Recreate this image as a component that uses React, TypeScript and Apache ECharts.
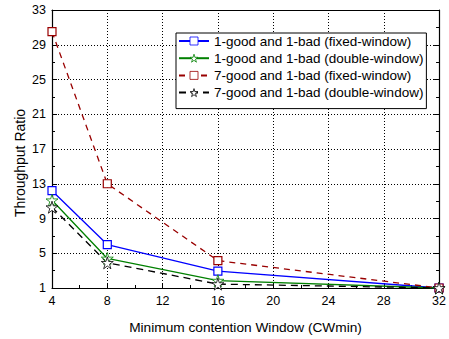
import React, { useEffect, useRef } from "react";
import * as echarts from "echarts";

const cwMin = [4, 8, 16, 32];
const oneGoodFixed = [12.2, 6.0, 2.95, 1.0];
const oneGoodDouble = [11.1, 4.4, 1.85, 1.0];
const sevenGoodFixed = [30.5, 13.0, 4.15, 1.0];
const sevenGoodDouble = [10.3, 3.9, 1.45, 1.0];

const seriesNames = [
  "1-good and 1-bad (fixed-window)",
  "1-good and 1-bad (double-window)",
  "7-good and 1-bad (fixed-window)",
  "7-good and 1-bad (double-window)",
];
const xAxisTitle = "Minimum contention Window (CWmin)";
const yAxisTitle = "Throughput Ratio";

const STAR = "path://M50 0 L61 35 L98 35 L68 56 L79 90 L50 69 L21 90 L32 56 L2 35 L39 35 Z";
const FONT = "Liberation Sans, Arial, sans-serif";

export default function App() {
  const ref = useRef<HTMLDivElement>(null);
  useEffect(() => {
    const chart = echarts.init(ref.current!, null, { renderer: "svg" });
    const pair = (ys: number[]) => cwMin.map((x, i) => [x, ys[i]]);
    const mk = (name: string, ys: number[], color: string, symbol: string, type: any, size: number, bw: number) => ({
      name,
      type: "line",
      data: pair(ys),
      symbol,
      symbolSize: size,
      showAllSymbol: true,
      lineStyle: { color, width: 1.3, type },
      itemStyle: { color: "#fff", borderColor: color, borderWidth: bw },
      emphasis: { disabled: true },
      z: 3,
    });
    const axisCommon = {
      axisLine: { show: true, lineStyle: { color: "#000", width: 1.2 } },
      axisTick: { show: true, inside: true, length: 5, lineStyle: { color: "#000" } },
      minorTick: { show: true, splitNumber: 2, length: 3, lineStyle: { color: "#000" } },
    };
    chart.setOption({
      animation: false,
      backgroundColor: "#fff",
      textStyle: { fontFamily: FONT },
      grid: { left: 52, right: 9, top: 10, bottom: 41, containLabel: false },
      legend: {
        show: true,
        orient: "vertical",
        left: 176,
        top: 33,
        itemWidth: 30,
        itemHeight: 10,
        itemGap: 3.2,
        padding: [1, 3, 9, 2],
        backgroundColor: "#fff",
        borderColor: "#000",
        borderWidth: 1,
        borderRadius: 0,
        itemStyle: { borderWidth: 0.8 },
        textStyle: { fontSize: 13.5, color: "#000", fontFamily: FONT },
        data: seriesNames,
      },
      graphic: [
        {
          type: "text",
          x: 20,
          y: 163,
          rotation: Math.PI / 2,
          style: {
            text: yAxisTitle,
            fontSize: 14,
            fontFamily: FONT,
            fill: "#000",
            align: "center",
            verticalAlign: "middle",
          },
        },
      ],
      xAxis: [
        {
          type: "value",
          min: 4,
          max: 32,
          interval: 4,
          ...axisCommon,
          axisLabel: { fontSize: 12.5, color: "#000", margin: 6, fontFamily: FONT },
          splitLine: { show: true, lineStyle: { color: "#000", type: [1, 2], width: 1 } },
          name: xAxisTitle,
          nameLocation: "middle",
          nameGap: 32,
          nameTextStyle: { fontSize: 13.7, color: "#000", fontFamily: FONT },
        },
        {
          type: "value",
          position: "top",
          min: 4,
          max: 32,
          interval: 4,
          axisLine: { show: true, lineStyle: { color: "#000", width: 1.2 } },
          axisTick: { show: false },
          axisLabel: { show: false },
          splitLine: { show: false },
        },
      ],
      yAxis: [
        {
          type: "value",
          min: 1,
          max: 33,
          interval: 4,
          ...axisCommon,
          axisLabel: { fontSize: 12.5, color: "#000", margin: 6, fontFamily: FONT },
          splitLine: { show: true, lineStyle: { color: "#000", type: [1, 2], width: 1 } },
        },
        {
          type: "value",
          position: "right",
          min: 1,
          max: 33,
          interval: 4,
          ...axisCommon,
          axisLabel: { show: false },
          splitLine: { show: false },
        },
      ],
      series: [
        mk(seriesNames[0], oneGoodFixed, "#0000ff", "rect", "solid", 8, 1.2),
        mk(seriesNames[1], oneGoodDouble, "#008000", STAR, "solid", 12, 0.8),
        mk(seriesNames[2], sevenGoodFixed, "#990000", "rect", [6, 5], 8, 1.2),
        mk(seriesNames[3], sevenGoodDouble, "#000000", STAR, [7, 5], 12, 0.8),
      ],
    });
    return () => chart.dispose();
  }, []);
  return <div ref={ref} style={{ width: 449, height: 339, position: "absolute", left: 0, top: 0 }} />;
}
